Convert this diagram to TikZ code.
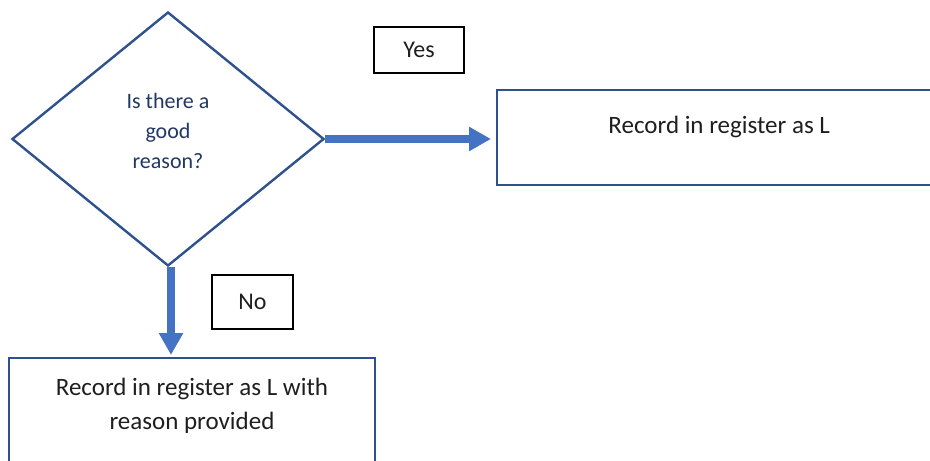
\documentclass[tikz,border=0pt]{standalone}
\usepackage{fontspec}
\setmainfont{Carlito}
\usetikzlibrary{shapes,arrows.meta}

\definecolor{boxblue}{RGB}{47,82,143}
\definecolor{arrowblue}{RGB}{68,114,196}
\definecolor{qtext}{RGB}{32,56,100}
\definecolor{inktext}{RGB}{30,30,30}

\tikzset{
	question/.style={diamond, draw=boxblue, line width=1.2pt, text=qtext, align=center,
		font=\fontsize{11}{15}\selectfont, minimum width=156pt, minimum height=127pt, inner sep=0pt},
	record/.style={rectangle, draw=boxblue, line width=1.2pt, text=inktext,
		font=\fontsize{12.5}{17}\selectfont, inner ysep=0pt},
	answer/.style={rectangle, draw=black, line width=0.9pt, text=inktext,
		font=\fontsize{12}{14}\selectfont},
	flow/.style={draw=arrowblue, line width=4pt, -{Triangle[width=11.5pt,length=11pt]}},
}

\begin{document}
\begin{tikzpicture}[x=0.5pt,y=-0.5pt]
		% Page frame
		\useasboundingbox (0,0) rectangle (930,460);
		\clip (0,0) rectangle (930,460);

		% Decision
		\node[question, text depth=8pt] (reason) at (168,139) {Is there a\\good\\reason?};

		% Outcomes
		\node[record, anchor=north west, minimum width=222pt, text height=21.5pt, text depth=26pt] (recL) at (496,89) {Record in register as L};
		\node[record, anchor=north, align=center, minimum width=183pt, text height=35.5pt, text depth=60pt] (recLR) at (192,357) {Record in register as L with\\reason provided};

		% Answer labels
		\node[answer, minimum width=45pt, minimum height=23pt] (yes) at (419,50) {Yes};
		\node[answer, minimum width=40.5pt, minimum height=27pt] (no) at (252.5,302) {No};

		% Connectors
		\draw[flow, shorten >=2.5pt] (reason.east) -- (reason.east -| recL.west);
		\draw[flow, shorten >=1pt] ([xshift=1.5pt]reason.south) -- ([xshift=1.5pt]reason.south |- recLR.north);
	\end{tikzpicture}
\end{document}
